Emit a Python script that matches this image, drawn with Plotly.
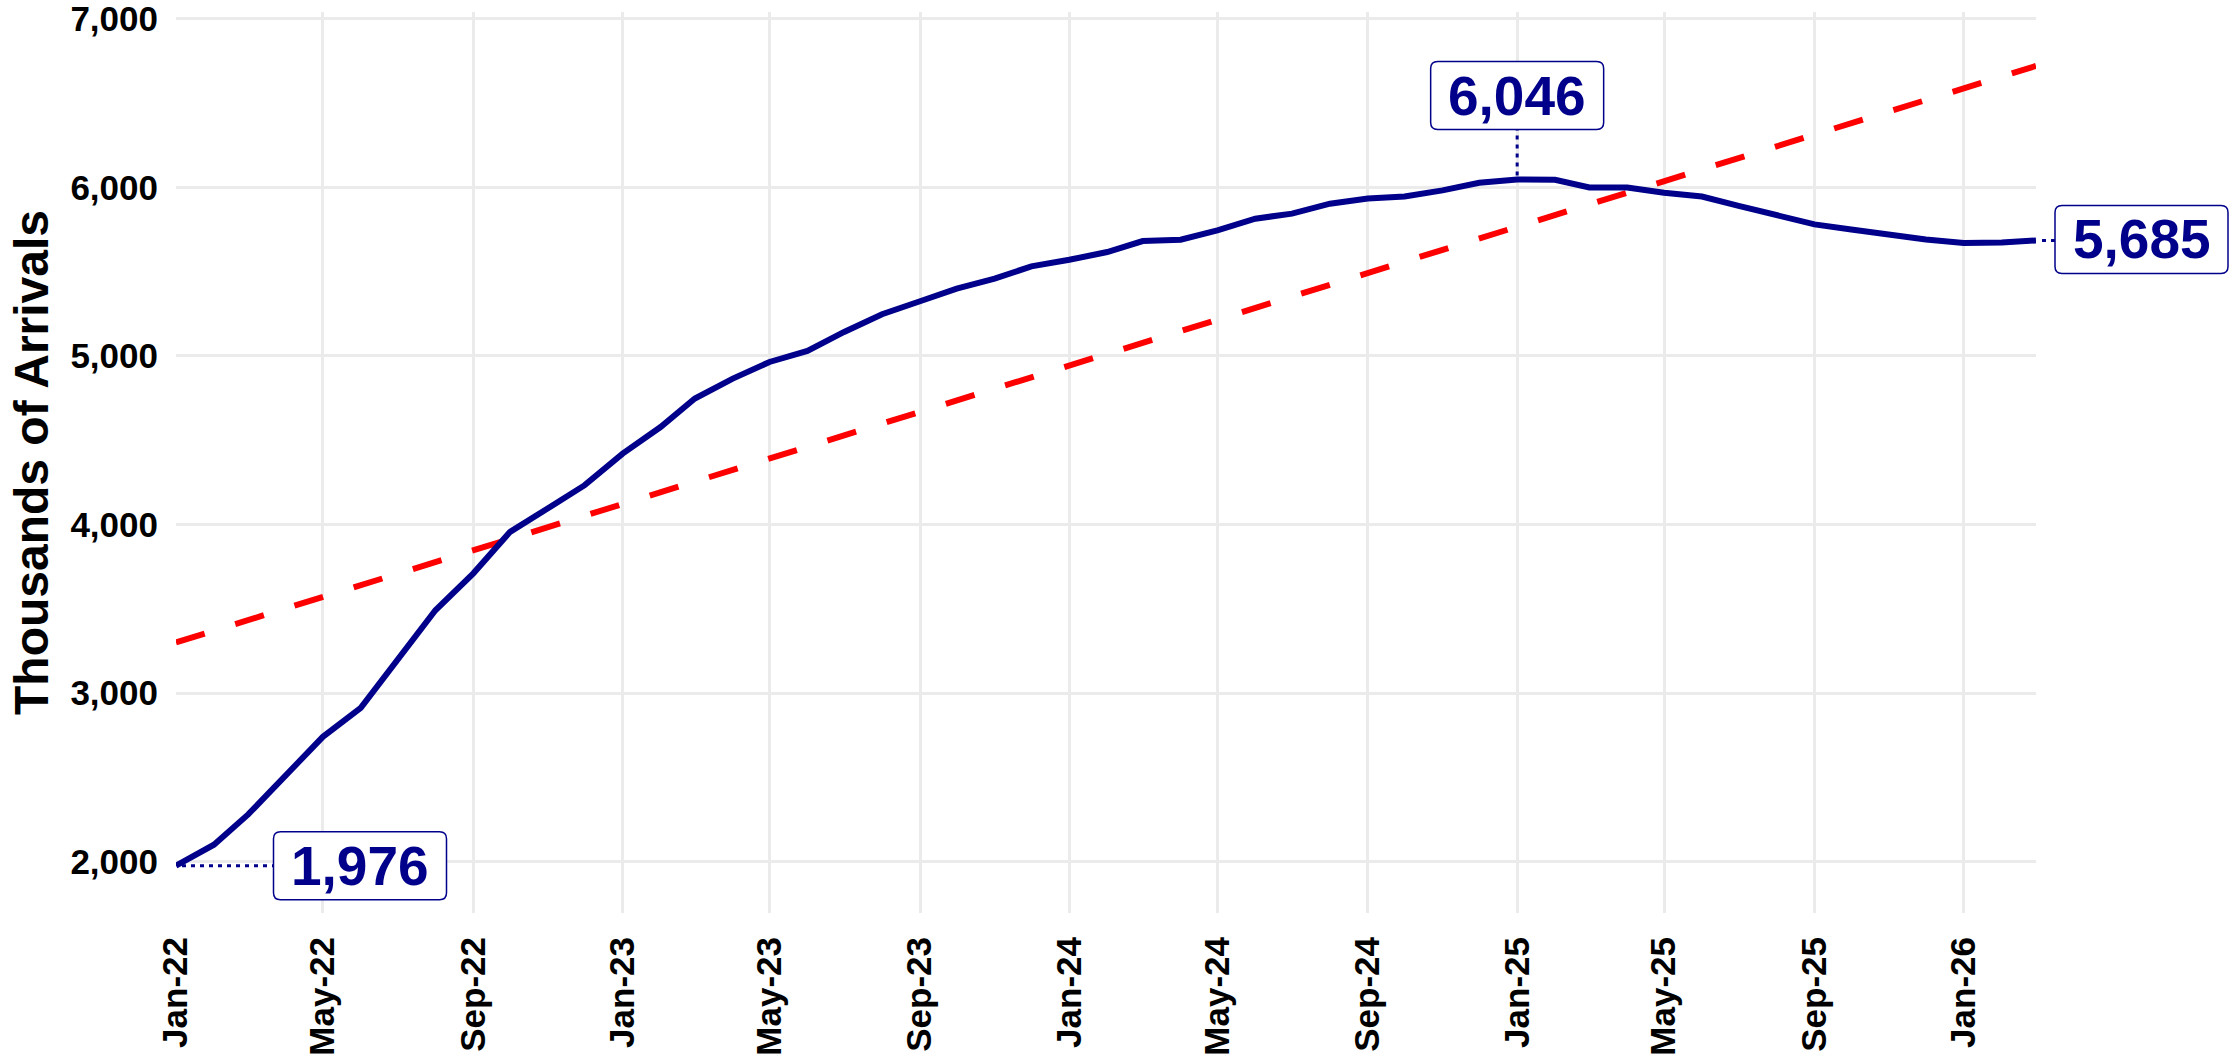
import plotly.graph_objects as go
import pandas as pd

# ---------------- data ----------------
month_start = "2022-01-01"
month_end = "2026-03-01"
months = [d.strftime("%Y-%m-%d") for d in pd.date_range(month_start, month_end, freq="MS")]

arrivals = [
    1976, 2100, 2280, 2514, 2740, 2912, 3195, 3491, 3710, 3956, 4096, 4233,   # 2022
    4420, 4578, 4747, 4865, 4964, 5029, 5142, 5247, 5324, 5399, 5458, 5531,   # 2023
    5570, 5616, 5681, 5689, 5745, 5814, 5844, 5903, 5933, 5946, 5982, 6027,   # 2024
    6046, 6045, 5999, 5999, 5968, 5945, 5890, 5837, 5780, 5750, 5718, 5690,   # 2025
    5670, 5672, 5685,                                                         # 2026
]

trend_dates = [month_start, month_end]
trend_values = [3300, 6720]

y_tick_values = [2000, 3000, 4000, 5000, 6000, 7000]
y_title = "Thousands of Arrivals"

# ---------------- style ----------------
NAVY = "#00008B"
RED = "#FF0000"
GRID = "#EBEBEB"
FONT = "Liberation Sans, Arial, sans-serif"

fig = go.Figure()

fig.add_trace(go.Scatter(
    x=trend_dates, y=trend_values, mode="lines",
    line=dict(color=RED, width=6, dash="30px,32px"),
    hoverinfo="skip", showlegend=False,
))
fig.add_trace(go.Scatter(
    x=months, y=arrivals, mode="lines",
    line=dict(color=NAVY, width=6),
    showlegend=False,
))

# ---------------- labels ----------------
BOX_W, BOX_H, R = 173, 68, 7


def rounded(x0, y0, x1, y1, r=R):
    return (f"M{x0+r},{y0} L{x1-r},{y0} Q{x1},{y0} {x1},{y0+r} "
            f"L{x1},{y1-r} Q{x1},{y1} {x1-r},{y1} L{x0+r},{y1} "
            f"Q{x0},{y1} {x0},{y1-r} L{x0},{y0+r} Q{x0},{y0} {x0+r},{y0} Z")


i_first = 0
i_max = max(range(len(arrivals)), key=lambda i: arrivals[i])
i_last = len(arrivals) - 1

# (index, xref, xanchor value, box centre offset dx, dy, connector)
labels = [
    (i_first, "x", months[i_first], 184, 0, (6, 0, 97, 0)),
    (i_max, "x", months[i_max], 0, 84, (0, 4, 0, 50)),
    (i_last, "paper", 1, 105.5, 1, (6, 0, 19, 0)),
]

for idx, xref, xa, dx, dy, (cx0, cy0, cx1, cy1) in labels:
    yv = arrivals[idx]
    fig.add_shape(
        type="line", xref=xref, yref="y", xsizemode="pixel", ysizemode="pixel",
        xanchor=xa, yanchor=yv, x0=cx0, y0=cy0, x1=cx1, y1=cy1,
        line=dict(color=NAVY, width=3, dash="4px,5px"), layer="above",
    )
    fig.add_shape(
        type="path", xref=xref, yref="y", xsizemode="pixel", ysizemode="pixel",
        xanchor=xa, yanchor=yv,
        path=rounded(dx - BOX_W / 2, dy - BOX_H / 2, dx + BOX_W / 2, dy + BOX_H / 2),
        fillcolor="white", line=dict(color=NAVY, width=1.5), layer="above",
    )
    fig.add_annotation(
        xref=xref, yref="y", x=xa, y=yv, xshift=dx, yshift=dy,
        text=f"{yv:,}", showarrow=False, xanchor="center", yanchor="middle",
        font=dict(family=FONT, size=55, color=NAVY, weight="bold"),
    )

# ---------------- axes ----------------
fig.update_xaxes(
    type="date", range=[month_start, month_end],
    tick0=month_start, dtick="M4", tickformat="%b-%y", tickangle=-90,
    showgrid=True, gridcolor=GRID, gridwidth=2.8,
    zeroline=False, showline=False, ticks="",
    automargin=False, ticklabeloverflow="allow",
    ticklabelstandoff=16,
    tickfont=dict(family=FONT, size=35, color="black", weight="bold"),
)
fig.update_yaxes(
    range=[1695, 7040], tickvals=y_tick_values, tickformat=",",
    showgrid=True, gridcolor=GRID, gridwidth=2.8,
    zeroline=False, showline=False, ticks="",
    automargin=False, ticklabeloverflow="allow",
    ticklabelstandoff=17,
    tickfont=dict(family=FONT, size=35, color="black", weight="bold"),
    title=dict(text=y_title, standoff=6,
               font=dict(family=FONT, size=48, color="black", weight="bold")),
)

fig.update_layout(
    width=2239, height=1057, autosize=False,
    margin=dict(l=176, r=203, t=12, b=144),
    plot_bgcolor="white", paper_bgcolor="white",
    showlegend=False,
)

# remove the browser's default 8px page margin so the figure sits at (0, 0)
fig.write_html(
    "out.html",
    config={"displayModeBar": False},
    post_script="document.body.style.margin='0';",
)
